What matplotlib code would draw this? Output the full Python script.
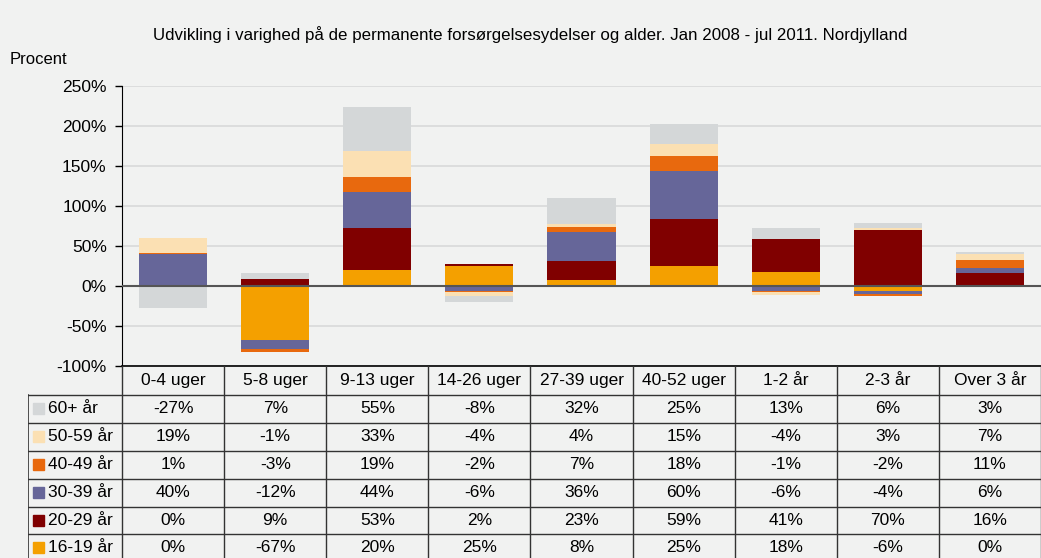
import numpy as np
import matplotlib.pyplot as plt
from matplotlib.patches import Rectangle

plt.rcParams['font.family'] = ['Liberation Sans', 'DejaVu Sans']

categories = ['0-4 uger', '5-8 uger', '9-13 uger', '14-26 uger', '27-39 uger',
              '40-52 uger', '1-2 år', '2-3 år', 'Over 3 år']
# series, bottom of the stack first
series_names = ['16-19 år', '20-29 år', '30-39 år', '40-49 år', '50-59 år', '60+ år']
v_16_19 = [0, -67, 20, 25, 8, 25, 18, -6, 0]
v_20_29 = [0, 9, 53, 2, 23, 59, 41, 70, 16]
v_30_39 = [40, -12, 44, -6, 36, 60, -6, -4, 6]
v_40_49 = [1, -3, 19, -2, 7, 18, -1, -2, 11]
v_50_59 = [19, -1, 33, -4, 4, 15, -4, 3, 7]
v_60 = [-27, 7, 55, -8, 32, 25, 13, 6, 3]
series_values = [v_16_19, v_20_29, v_30_39, v_40_49, v_50_59, v_60]
colors = ['#F4A000', '#800000', '#666699', '#E8690E', '#FBE0B3', '#D4D7D8']

bg = '#F1F2F1'
W, H = 1041, 558
fs = 12.5
fig = plt.figure(figsize=(W / 100, H / 100), dpi=100, facecolor=bg)

def fx(px):
    return px / W

def fy(py):
    return 1 - py / H

# chart
ax = fig.add_axes([fx(122), fy(366), fx(1041) - fx(122), (366 - 86) / H])
ax.set_facecolor(bg)
x = np.arange(len(categories))
pos_bottom = np.zeros(len(categories))
neg_bottom = np.zeros(len(categories))
for vals, col in zip(series_values, colors):
    vals = np.array(vals, dtype=float)
    bottoms = np.where(vals >= 0, pos_bottom, neg_bottom)
    ax.bar(x, vals, width=0.667, bottom=bottoms, color=col, zorder=3)
    pos_bottom += np.where(vals >= 0, vals, 0)
    neg_bottom += np.where(vals < 0, vals, 0)

ax.set_xlim(-0.5, len(categories) - 0.5)
ax.set_ylim(-100, 250)
ax.set_yticks(range(-100, 251, 50))
ax.set_yticklabels([f'{t}%' for t in range(-100, 251, 50)], fontsize=fs)
ax.set_xticks([])
ax.tick_params(axis='y', length=5, width=1, color='black', pad=6)
ax.yaxis.grid(True, color='#D8D9D9', lw=1.2, zorder=0)
ax.axhline(0, color='#555555', lw=1.5, zorder=4)
for s in ['top', 'right']:
    ax.spines[s].set_visible(False)
ax.spines['left'].set_color('black')
ax.spines['bottom'].set_color('black')
ax.spines['bottom'].set_linewidth(1.2)

fig.text(fx(530), fy(35), 'Udvikling i varighed på de permanente forsørgelsesydelser og alder. '
         'Jan 2008 - jul 2011. Nordjylland', ha='center', va='center', fontsize=12.2)
fig.text(fx(10), fy(59), 'Procent', ha='left', va='center', fontsize=12)

# data table
left_px = 28
colw = 102.0
x0 = -0.5 - (122 - left_px) / colw
tax = fig.add_axes([fx(left_px), 0, fx(1041) - fx(left_px), fy(366)])
tax.set_xlim(x0, len(categories) - 0.5)
tax.set_ylim(H, 366)
tax.axis('off')

row_edges = [366, 395, 423, 451, 479, 507, 534, 562]
lc = '#333333'
for i in range(len(categories) + 1):
    tax.plot([i - 0.5, i - 0.5], [366, H], color=lc, lw=1)
tax.plot([x0, x0], [395, H], color=lc, lw=1.2)
for yy in row_edges[1:-1]:
    tax.plot([x0, len(categories) - 0.5], [yy, yy], color=lc, lw=1)

hy = (row_edges[0] + row_edges[1]) / 2
for i, c in enumerate(categories):
    tax.text(i, hy, c, ha='center', va='center', fontsize=fs)

table_rows = list(zip(series_names, series_values, colors))[::-1]
for r, (name, vals, col) in enumerate(table_rows):
    cy = (row_edges[r + 1] + row_edges[r + 2]) / 2
    sx = x0 + (33 - left_px) / colw
    tax.add_patch(Rectangle((sx, cy - 5.5), 11 / colw, 11, color=col))
    tax.text(x0 + (48 - left_px) / colw, cy, name, ha='left', va='center', fontsize=fs)
    for i, v in enumerate(vals):
        tax.text(i, cy, f'{v}%', ha='center', va='center', fontsize=fs)

fig.savefig('out.png', dpi=100, facecolor=bg)
